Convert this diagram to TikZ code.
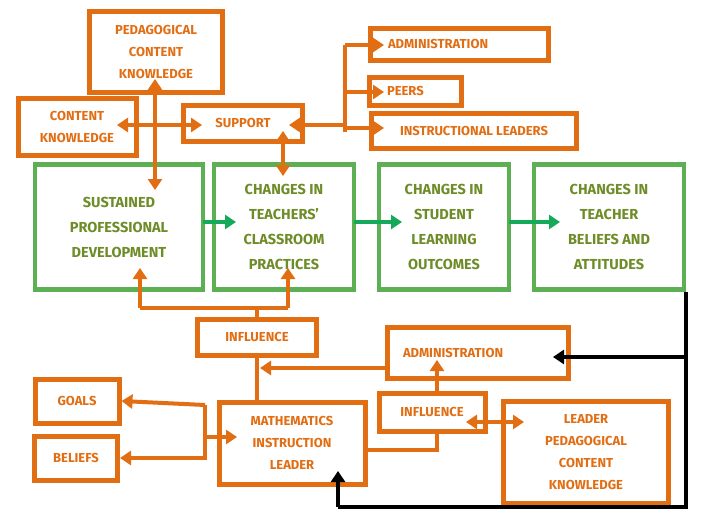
\documentclass[tikz,border=0pt]{standalone}
\usepackage{fontspec}
\setmainfont{Fira Sans}
\usetikzlibrary{arrows.meta}
\definecolor{org}{RGB}{226,110,20}
\definecolor{grn}{RGB}{92,175,82}
\definecolor{gtx}{RGB}{110,140,40}
\definecolor{garr}{RGB}{20,170,90}
\tikzset{
 ob/.style={draw=org,line width=5pt,fill=white,text=org,font=\bfseries\fontsize{13}{22}\selectfont,align=center,inner sep=0pt},
 gb/.style={draw=grn,line width=4.5pt,fill=white,text=gtx,font=\bfseries\fontsize{14.5}{25}\selectfont,align=center,inner sep=0pt},
 oc/.style={draw=org,line width=4pt},
 oa/.style={oc,-{Triangle[length=11pt,width=14pt]}},
 oda/.style={oc,{Triangle[length=11pt,width=14pt]}-{Triangle[length=11pt,width=14pt]}},
 ga/.style={draw=garr,line width=4pt,-{Triangle[length=11pt,width=14pt]}},
 ka/.style={draw=black,line width=4pt,-{Triangle[length=11pt,width=14pt]}},
}
\begin{document}
\begin{tikzpicture}[x=1pt,y=-1pt]
\useasboundingbox (0,0) rectangle (718,531);
\fill[white] (0,0) rectangle (718,531);
% boxes
\node[ob,minimum width=133pt,minimum height=81pt] (pck) at (156,52) {PEDAGOGICAL\\CONTENT\\KNOWLEDGE};
\node[ob,minimum width=118pt,minimum height=57pt] (ck) at (77,127) {CONTENT\\KNOWLEDGE};
\node[ob,minimum width=119pt,minimum height=36pt] (sup) at (243,123) {SUPPORT};
\node[ob,minimum width=178pt,minimum height=32pt,text width=170pt,align=left] (adm1) at (459,44) {\hspace*{14pt}ADMINISTRATION};
\node[ob,minimum width=92pt,minimum height=28pt,text width=84pt,align=left] (peers) at (415,91) {\hspace*{14pt}PEERS};
\node[ob,minimum width=205pt,minimum height=35pt] (il) at (474,131) {INSTRUCTIONAL LEADERS};
\node[gb,minimum width=168pt,minimum height=125pt] (spd) at (119,227) {SUSTAINED\\PROFESSIONAL\\DEVELOPMENT};
\node[gb,minimum width=140pt,minimum height=125pt] (ctcp) at (284,227) {CHANGES IN\\TEACHERS'\\CLASSROOM\\PRACTICES};
\node[gb,minimum width=130pt,minimum height=125pt] (cslo) at (444,227) {CHANGES IN\\STUDENT\\LEARNING\\OUTCOMES};
\node[gb,minimum width=150pt,minimum height=125pt] (ctba) at (609,227) {CHANGES IN\\TEACHER\\BELIEFS AND\\ATTITUDES};
\node[ob,minimum width=119pt,minimum height=36pt] (inf1) at (257,337) {INFLUENCE};
\node[ob,minimum width=181pt,minimum height=51pt,text width=170pt,align=left] (adm2) at (478,353) {\hspace*{10pt}ADMINISTRATION\\[4pt]};
\node[ob,minimum width=84pt,minimum height=44pt] (goals) at (77,401) {GOALS};
\node[ob,minimum width=83pt,minimum height=44pt] (bel) at (76,458) {BELIEFS};
\node[ob,minimum width=146pt,minimum height=82pt] (mil) at (292,443) {MATHEMATICS\\INSTRUCTION\\LEADER};
\node[ob,minimum width=106pt,minimum height=38pt] (inf2) at (432,412) {INFLUENCE};
\node[ob,minimum width=165pt,minimum height=102pt] (lpck) at (586,452) {LEADER\\PEDAGOGICAL\\CONTENT\\KNOWLEDGE};
% orange connectors
\draw[oda] (155,79) -- (155,190);
\draw[oda] (117,125) -- (202,125);
\draw[oa] (345,125) -- (289,125);
\draw[oda] (283,131) -- (283,176);
\draw[oc] (345,45) -- (345,132);
\draw[oa] (345,45) -- (384,45);
\draw[oa] (345,92) -- (384,92);
\draw[oa] (345,128) -- (384,128);
\draw[oc] (140,308) -- (288,308);
\draw[oa] (140,308) -- (140,268);
\draw[oa] (288,308) -- (288,268);
\draw[oc] (257,308) -- (inf1.north);
\draw[oc] (inf1.south) -- (257,400);
\draw[oa] (388,368) -- (260,368);
\draw[oc] (205,405) -- (205,460);
\draw[oa] (205,405) -- (goals.east);
\draw[oa] (205,458) -- (bel.east);
\draw[oa] (205,437) -- (237,437);
\draw[oc] (367,450) -- (437,450) -- (437,433);
\draw[oa] (437,394) -- (437,360);
\draw[oda] (466,422) -- (524,422);
% green arrows
\draw[ga] (203,222) -- (236,222);
\draw[ga] (354,222) -- (402,222);
\draw[ga] (509,222) -- (560,222);
% black
\draw[draw=black,line width=4pt] (686,292) -- (686,507) -- (338,507);
\draw[ka] (338,507) -- (338,471);
\draw[ka] (686,357) -- (553,357);
\end{tikzpicture}
\end{document}
